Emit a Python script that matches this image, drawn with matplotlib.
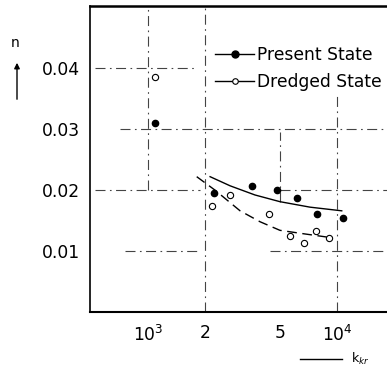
import matplotlib
matplotlib.use("Agg")
import matplotlib.pyplot as plt
import numpy as np

# Data
present_x = [1090, 2230, 3540, 4830, 6120, 7810, 10700]
present_n = [0.0310, 0.0195, 0.0207, 0.0200, 0.0187, 0.0160, 0.0155]

dredged_x = [1090, 2190, 2720, 4360, 5640, 6710, 7710, 9040]
dredged_n = [0.0385, 0.0174, 0.0192, 0.0160, 0.0125, 0.0114, 0.0133, 0.0122]

fit_present_x = [2130, 2720, 3680, 4990, 7200, 10600]
fit_present_n = [0.0222, 0.0207, 0.0192, 0.0181, 0.0172, 0.0166]

fit_dredged_x = [1810, 2260, 3070, 3920, 4990, 6780, 8830]
fit_dredged_n = [0.0222, 0.0200, 0.0166, 0.0148, 0.0134, 0.0128, 0.0123]

xtick_vals = [1000, 2000, 5000, 10000]
xtick_labels = ["$10^3$", "2", "5", "$10^4$"]
ytick_vals = [0.01, 0.02, 0.03, 0.04]
ytick_labels = ["0.01", "0.02", "0.03", "0.04"]

plt.rcParams['font.family'] = ['DejaVu Sans']

fig = plt.figure(figsize=(3.87, 3.69), dpi=100)
ax = fig.add_axes([90/387, 1-312/369, 1-90/387, (312-6)/369])
ax.set_xscale('log')
xmin, xmax = 493, 18400
ymin, ymax = 0.0, 0.0502
ax.set_xlim(xmin, xmax)
ax.set_ylim(ymin, ymax)

gc = '#444444'
gkw = dict(colors=gc, linestyles=(0, (9, 4, 1.5, 4)), linewidth=0.8, zorder=1)
# horizontal grid fragments
ax.hlines(0.04, 524, 1815, **gkw)
ax.hlines(0.03, 711, xmax, **gkw)
ax.hlines(0.02, 524, 1884, **gkw)
ax.hlines(0.02, 4990, xmax, **gkw)
ax.hlines(0.01, 755, 1884, **gkw)
ax.hlines(0.01, 4420, xmax, **gkw)
# vertical grid fragments
ax.vlines(1000, 0.02, ymax, **gkw)
ax.vlines(2000, 0.0, ymax, **gkw)
ax.vlines(5000, 0.018, 0.0295, **gkw)
ax.vlines(10000, 0.0, 0.0356, **gkw)

# fitted curves
ax.plot(fit_present_x, fit_present_n, color='black', lw=1.0, zorder=2)
ax.plot(fit_dredged_x, fit_dredged_n, color='black', lw=1.0, ls=(0, (7, 4)), zorder=2)

# points
ax.plot(present_x, present_n, 'o', color='black', ms=4.5, zorder=3)
ax.plot(dredged_x, dredged_n, 'o', mfc='white', mec='black', mew=0.8, ms=4.5, zorder=3)

# legend
ax.plot([], [], '-o', color='black', ms=5, lw=1.0, label='Present State')
ax.plot([], [], '-o', color='black', mfc='white', ms=4, lw=1.0, mew=0.8, label='Dredged State')
ax.legend(loc='upper left', bbox_to_anchor=(215/387, 1-46/369), bbox_transform=fig.transFigure,
          frameon=False, fontsize=12.3,
          handlelength=2.3, handletextpad=0.15, labelspacing=0.5, borderpad=0.0, borderaxespad=0.0)

# spines
ax.spines['right'].set_visible(False)
ax.spines['top'].set_linewidth(1.8)
ax.spines['left'].set_linewidth(1.2)
ax.spines['bottom'].set_linewidth(1.5)

ax.xaxis.set_major_locator(matplotlib.ticker.FixedLocator(xtick_vals))
ax.xaxis.set_minor_locator(matplotlib.ticker.NullLocator())
ax.set_xticklabels(xtick_labels)
ax.set_yticks(ytick_vals)
ax.set_yticklabels(ytick_labels)
ax.tick_params(axis='both', length=0, labelsize=12.3)
ax.tick_params(axis='x', pad=9)
ax.tick_params(axis='y', pad=7)

# axis labels with arrows
fig.text(15/387, 1-43/369, 'n', fontsize=10, ha='center', va='center')
fig.add_artist(matplotlib.patches.FancyArrowPatch((17/387, 1-102/369), (17/387, 1-60/369),
               transform=fig.transFigure, arrowstyle='-|>', mutation_scale=8, color='black', lw=1.0))
fig.add_artist(matplotlib.lines.Line2D([300/387, 342/387], [1-359/369, 1-359/369],
               transform=fig.transFigure, color='black', lw=1.0))
fig.text(351/387, 1-359/369, 'k$_{kr}$', fontsize=9, ha='left', va='center')

fig.savefig('out.png', dpi=100)
